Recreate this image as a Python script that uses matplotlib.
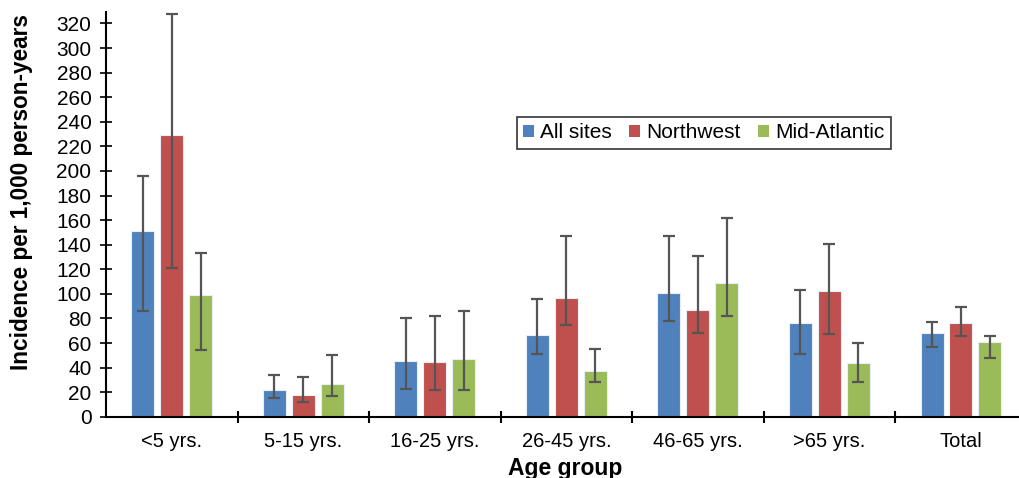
import matplotlib.pyplot as plt
import numpy as np

plt.rcParams['font.family'] = ['Liberation Sans', 'DejaVu Sans']

groups = ['<5 yrs.', '5-15 yrs.', '16-25 yrs.', '26-45 yrs.', '46-65 yrs.', '>65 yrs.', 'Total']
series = ['All sites', 'Northwest', 'Mid-Atlantic']
colors = ['#4F81BD', '#C0504D', '#9BBB59']

all_sites = [151.5, 22, 45.6, 66.5, 100.7, 76.3, 68]
all_lo = [86, 15.5, 23, 51.5, 78, 51, 57]
all_hi = [196, 34, 80, 96, 147, 103, 76.8]

northwest = [229.6, 18, 44.8, 96.6, 87, 102.3, 76.3]
nw_lo = [121, 12, 22, 75, 68, 67.6, 66]
nw_hi = [328, 32, 82, 147, 131, 140.6, 89.7]

mid_atlantic = [99, 27, 47, 37, 109, 43.4, 61]
ma_lo = [54.5, 17, 22, 28, 82, 28, 48]
ma_hi = [133.5, 50.5, 86, 55, 162, 60, 65.4]

vals = [all_sites, northwest, mid_atlantic]
los = [all_lo, nw_lo, ma_lo]
his = [all_hi, nw_hi, ma_hi]

fig = plt.figure(figsize=(10.2, 4.78), dpi=100)
ax = fig.add_axes([0.104, 0.128, 0.9, 0.846])

x = np.arange(len(groups))
width = 0.175
step = 0.22
for i in range(3):
    v = np.array(vals[i])
    err = [v - np.array(los[i]), np.array(his[i]) - v]
    ax.bar(x + (i - 1) * step, v, width, color=colors[i], edgecolor='#e8eef7',
           linewidth=0.8, label=series[i], zorder=2)
    ax.errorbar(x + (i - 1) * step, v, yerr=err, fmt='none', ecolor='#555555',
                elinewidth=1.6, capsize=4.3, capthick=1.6, zorder=3)

ax.set_xlim(-0.5, 6.48)
ax.set_ylim(0, 329)
ax.set_yticks(np.arange(0, 321, 20))
ax.set_xticks(x)
ax.set_xticklabels(groups)
ax.set_xticks(np.arange(0.5, 6, 1), minor=True)
ax.tick_params(axis='x', which='major', length=0, labelsize=14.5, pad=11)
ax.tick_params(axis='x', which='minor', direction='inout', length=9, width=1.5)
ax.tick_params(axis='y', direction='inout', length=9, width=1.2, labelsize=15, pad=6)

for s in ['top', 'right']:
    ax.spines[s].set_visible(False)
ax.spines['left'].set_linewidth(1.5)
ax.spines['bottom'].set_linewidth(1.5)

ax.set_ylabel('Incidence per 1,000 person-years', fontsize=16.3, fontweight='bold', va='center')
ax.yaxis.set_label_coords(-0.0926, 0.555)
ax.set_xlabel('Age group', fontsize=16.5, fontweight='bold', labelpad=4)

leg = ax.legend(loc='center', bbox_to_anchor=(0.651, 0.702), ncol=3, fontsize=15,
                frameon=True, fancybox=False, edgecolor='black', handlelength=0.55,
                handleheight=0.55, handletextpad=0.3, columnspacing=0.8,
                borderpad=0.3, borderaxespad=0)
leg.get_frame().set_linewidth(1.2)
for h in leg.legend_handles:
    h.set_edgecolor('none')

fig.savefig('out.png', dpi=100)
